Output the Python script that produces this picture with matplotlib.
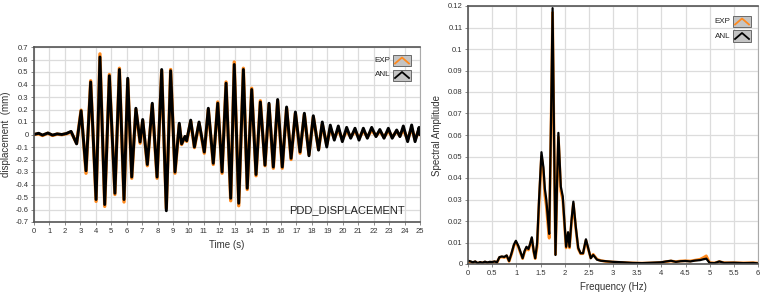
import matplotlib
matplotlib.use("Agg")
import matplotlib.pyplot as plt
from matplotlib.patches import Rectangle
from matplotlib.lines import Line2D

plt.rcParams['font.family'] = ['Liberation Sans', 'DejaVu Sans']

W, H = 765, 296

# displacement time history, extrema
disp_t = [0, 0.3, 0.55, 0.9, 1.2, 1.5, 1.8, 2.1, 2.4, 2.76,
          3.05, 3.37, 3.67, 4.02, 4.27, 4.58, 4.88, 5.24, 5.53, 5.83,
          6.07, 6.33, 6.6, 6.87, 7.04, 7.34, 7.66, 7.97, 8.27, 8.57,
          8.85, 9.13, 9.41, 9.56, 9.78, 9.89, 10.15, 10.39, 10.69, 11.03,
          11.29, 11.61, 11.9, 12.18, 12.44, 12.74, 12.97, 13.26, 13.56, 13.81,
          14.1, 14.38, 14.66, 14.96, 15.22, 15.5, 15.78, 16.08, 16.36, 16.65,
          16.93, 17.23, 17.51, 17.81, 18.09, 18.43, 18.67, 18.96, 19.19, 19.45,
          19.71, 19.97, 20.25, 20.51, 20.79, 21.05, 21.33, 21.59, 21.87, 22.15,
          22.4, 22.67, 22.95, 23.2, 23.49, 23.7, 23.92, 24.2, 24.46, 24.68,
          24.94, 25.0]
disp_anl = [0, 0.01, -0.005, 0.012, -0.005, 0.005, 0.0, 0.008, 0.025, -0.075,
            0.19, -0.29, 0.42, -0.52, 0.62, -0.56, 0.47, -0.47, 0.52, -0.52,
            0.45, -0.34, 0.21, -0.06, 0.12, -0.24, 0.25, -0.34, 0.52, -0.61,
            0.51, -0.30, 0.09, -0.075, -0.015, -0.05, 0.115, -0.10, 0.10, -0.14,
            0.21, -0.23, 0.25, -0.30, 0.41, -0.51, 0.56, -0.55, 0.52, -0.43,
            0.36, -0.32, 0.26, -0.245, 0.25, -0.26, 0.28, -0.26, 0.22, -0.19,
            0.18, -0.14, 0.17, -0.17, 0.15, -0.125, 0.10, -0.10, 0.075, -0.045,
            0.068, -0.057, 0.057, -0.03, 0.05, -0.045, 0.05, -0.03, 0.057, -0.017,
            0.04, -0.03, 0.05, -0.03, 0.036, -0.017, 0.068, -0.057, 0.076, -0.057,
            0.057, 0.0]
disp_exp = [0, 0.005, -0.008, 0.01, -0.008, 0.003, -0.002, 0.006, 0.02, -0.07,
            0.195, -0.31, 0.43, -0.535, 0.645, -0.575, 0.48, -0.48, 0.53, -0.54,
            0.44, -0.35, 0.2, -0.07, 0.11, -0.25, 0.24, -0.35, 0.51, -0.59,
            0.52, -0.31, 0.08, -0.08, -0.02, -0.055, 0.105, -0.105, 0.09, -0.15,
            0.2, -0.24, 0.26, -0.31, 0.42, -0.53, 0.58, -0.57, 0.53, -0.44,
            0.37, -0.33, 0.27, -0.25, 0.24, -0.27, 0.27, -0.27, 0.21, -0.2,
            0.17, -0.15, 0.16, -0.16, 0.14, -0.12, 0.08, -0.08, 0.05, -0.03,
            0.04, -0.04, 0.03, -0.02, 0.03, -0.03, 0.03, -0.02, 0.035, -0.01,
            0.025, -0.02, 0.03, -0.02, 0.025, -0.01, 0.04, -0.04, 0.05, -0.04,
            0.04, 0.0]

# Fourier spectrum
freq = [0, 0.05, 0.1, 0.15, 0.2, 0.25, 0.3, 0.35, 0.4, 0.45,
        0.5, 0.55, 0.6, 0.65, 0.7, 0.75, 0.8, 0.85, 0.9, 0.95,
        0.99, 1.04, 1.08, 1.13, 1.17, 1.21, 1.25, 1.28, 1.32, 1.36,
        1.39, 1.43, 1.47, 1.52, 1.56, 1.59, 1.62, 1.65, 1.68, 1.72,
        1.75, 1.78, 1.81, 1.84, 1.87, 1.92, 1.96, 2.0, 2.03, 2.07,
        2.1, 2.14, 2.18, 2.23, 2.28, 2.33, 2.38, 2.44, 2.48, 2.54,
        2.59, 2.67, 2.75, 2.85, 3.0, 3.2, 3.4, 3.6, 3.8, 4.0,
        4.1, 4.2, 4.3, 4.4, 4.5, 4.6, 4.7, 4.8, 4.87, 4.93,
        5.0, 5.1, 5.2, 5.3, 5.5, 5.7, 5.9, 6.0]
spec_anl = [0.0015, 0.0012, 0.0008, 0.0012, 0.0004, 0.0009, 0.0006, 0.0011, 0.0007, 0.001,
            0.0009, 0.0012, 0.0008, 0.0032, 0.0035, 0.0033, 0.004, 0.0014, 0.005, 0.009,
            0.0108, 0.0085, 0.006, 0.0027, 0.006, 0.008, 0.007, 0.009, 0.0124, 0.006,
            0.0027, 0.0096, 0.03, 0.052, 0.045, 0.035, 0.03, 0.022, 0.014, 0.07,
            0.119, 0.06, 0.0042, 0.035, 0.061, 0.036, 0.0315, 0.018, 0.008, 0.0148,
            0.008, 0.02, 0.029, 0.0173, 0.0075, 0.005, 0.005, 0.0115, 0.008, 0.0027,
            0.0042, 0.002, 0.0015, 0.0013, 0.001, 0.0008, 0.0005, 0.0004, 0.0006, 0.0008,
            0.0012, 0.0015, 0.001, 0.0013, 0.0014, 0.0012, 0.0016, 0.0018, 0.0022, 0.0025,
            0.0005, 0.0004, 0.0012, 0.0005, 0.0006, 0.0004, 0.0005, 0.0003]
spec_exp = [0.0012, 0.001, 0.0006, 0.001, 0.0003, 0.0007, 0.0005, 0.0009, 0.0006, 0.0008,
            0.0008, 0.001, 0.0007, 0.003, 0.0033, 0.003, 0.0038, 0.0012, 0.0045, 0.0085,
            0.0102, 0.008, 0.0055, 0.0025, 0.0055, 0.0075, 0.0065, 0.0085, 0.0118, 0.0055,
            0.0025, 0.008, 0.028, 0.05, 0.043, 0.032, 0.027, 0.019, 0.012, 0.068,
            0.117, 0.058, 0.0045, 0.033, 0.059, 0.034, 0.03, 0.017, 0.0075, 0.014,
            0.0075, 0.019, 0.028, 0.0165, 0.007, 0.0048, 0.0048, 0.011, 0.0075, 0.0028,
            0.0045, 0.0022, 0.0016, 0.0012, 0.0009, 0.0007, 0.0005, 0.0004, 0.0005, 0.0007,
            0.0011, 0.0014, 0.0011, 0.0014, 0.0015, 0.0014, 0.0018, 0.0022, 0.003, 0.0038,
            0.0006, 0.0005, 0.0011, 0.0006, 0.0006, 0.0005, 0.0006, 0.0004]

ORANGE = '#ff8a1e'


def style_axes(ax):
    ax.set_facecolor('white')
    ax.grid(True, color='#dcdcdc', linewidth=0.9)
    ax.set_axisbelow(True)
    for side in ['left', 'top', 'bottom']:
        ax.spines[side].set_color('#555555')
        ax.spines[side].set_linewidth(1.2)
    ax.spines['right'].set_color('#aaaaaa')
    ax.spines['right'].set_linewidth(0.8)
    ax.tick_params(labelsize=5.5, labelcolor='#333333', length=2, width=0.6,
                   color='#777777', pad=2)


def fake_legend(fig, x0, yc_list):
    # boxed icons like the original software legend, placed in figure pixels
    for (name, col), yc in zip([('EXP', ORANGE), ('ANL', 'black')], yc_list):
        fig.text((x0 - 3) / W, 1 - yc / H, name, ha='right', va='center',
                 fontsize=5.8, color='#222222')
        fig.patches.append(Rectangle((x0 / W, 1 - (yc + 5.5) / H), 18 / W, 11 / H,
                                     transform=fig.transFigure, facecolor='#c4c4c4',
                                     edgecolor='#6a6a6a', linewidth=0.7, zorder=5))
        fig.lines.append(Line2D([(x0 + 2) / W, (x0 + 9) / W, (x0 + 16) / W],
                                [1 - (yc + 3) / H, 1 - (yc - 3) / H, 1 - (yc + 3) / H],
                                transform=fig.transFigure, color=col,
                                linewidth=1.3, zorder=6))


fig = plt.figure(figsize=(W / 100, H / 100), dpi=100)

ax1 = fig.add_axes([34 / W, 1 - 222 / H, (420 - 34) / W, (222 - 47) / H])
style_axes(ax1)
ax1.plot(disp_t, disp_exp, color=ORANGE, linewidth=2.4, solid_joinstyle='round')
ax1.plot(disp_t, disp_anl, color='black', linewidth=2.1, solid_joinstyle='round')
ax1.set_xlim(0, 25)
ax1.set_ylim(-0.7, 0.7)
ax1.set_xticks(range(0, 26))
yt = [round(-0.7 + 0.1 * i, 1) for i in range(15)]
ax1.set_yticks(yt)
ax1.set_yticklabels(['0' if v == 0 else f'{v:g}' for v in yt])
ax1.set_xlabel('Time (s)', fontsize=7, color='#333333', labelpad=4)
ax1.set_ylabel('displacement  (mm)', fontsize=7, color='#333333', labelpad=3)
ax1.text(0.96, 0.07, 'PDD_DISPLACEMENT', transform=ax1.transAxes, ha='right',
         va='center', fontsize=8, color='#222222')

ax2 = fig.add_axes([468 / W, 1 - 264 / H, (758 - 468) / W, (264 - 6) / H])
style_axes(ax2)
ax2.plot(freq, spec_exp, color=ORANGE, linewidth=2.0, solid_joinstyle='round')
ax2.plot(freq, spec_anl, color='black', linewidth=1.6, solid_joinstyle='round')
ax2.set_xlim(0, 6)
ax2.set_ylim(0, 0.12)
xt = [0.5 * i for i in range(13)]
ax2.set_xticks(xt)
ax2.set_xticklabels([f'{v:g}' for v in xt])
yt2 = [0.01 * i for i in range(13)]
ax2.set_yticks(yt2)
ax2.set_yticklabels(['0' if i == 0 else f'{0.01 * i:.2f}'.rstrip('0') for i in range(13)])
ax2.set_xlabel('Frequency (Hz)', fontsize=7, color='#333333', labelpad=4)
ax2.set_ylabel('Spectral Amplitude', fontsize=7, color='#333333', labelpad=4)

fake_legend(fig, 393, [60.5, 75])
fake_legend(fig, 733, [21.5, 36])

fig.savefig('out.png', dpi=100, facecolor='white')
